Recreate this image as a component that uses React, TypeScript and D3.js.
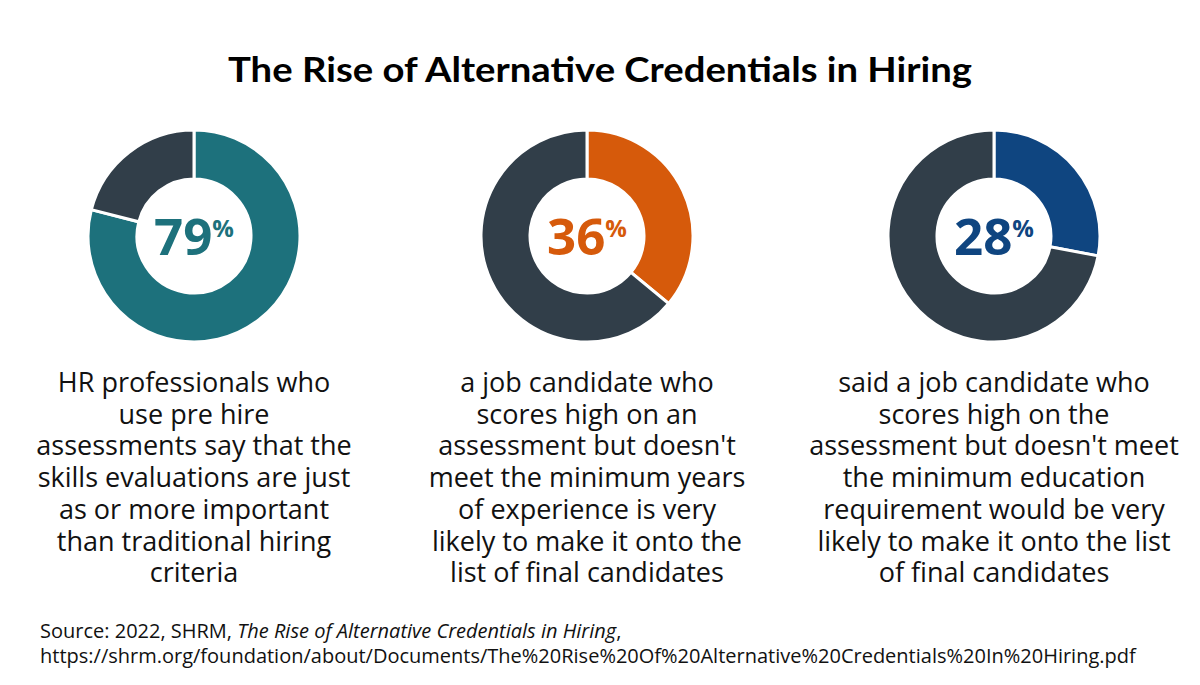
import React, { useEffect } from "react";
import * as d3 from "d3";

// values
const percents = [79, 36, 28];
const highlightColors = ["#1d717c", "#d65a0b", "#0f4580"];
const restColor = "#313e49";

const captions = [
  [
    "HR professionals who",
    "use pre hire",
    "assessments say that the",
    "skills evaluations are just",
    "as or more important",
    "than traditional hiring",
    "criteria",
  ],
  [
    "a job candidate who",
    "scores high on an",
    "assessment but doesn't",
    "meet the minimum years",
    "of experience is very",
    "likely to make it onto the",
    "list of final candidates",
  ],
  [
    "said a job candidate who",
    "scores high on the",
    "assessment but doesn't meet",
    "the minimum education",
    "requirement would be very",
    "likely to make it onto the list",
    "of final candidates",
  ],
];

const title = "The Rise of Alternative Credentials in Hiring";
const sourceUrl =
  "https://shrm.org/foundation/about/Documents/The%20Rise%20Of%20Alternative%20Credentials%20In%20Hiring.pdf";

const width = 1200;
const height = 685;
const centers = [194, 587, 994];
const cy = 236;
const outerR = 106;
const innerR = 57;

const App = () => {
  useEffect(() => {
    document.body.style.margin = "0";
  }, []);

  const pie = d3
    .pie<number>()
    .sort(null)
    .value((d) => d);
  const arc = d3.arc<d3.PieArcDatum<number>>().innerRadius(innerR).outerRadius(outerR);

  return (
    <svg width={width} height={height} style={{ display: "block", background: "#fff" }}>
      <text
        x={width / 2}
        y={82}
        textAnchor="middle"
        fontFamily="Lato, Inter, sans-serif"
        fontWeight={700}
        fontSize={34}
        textLength={744}
        lengthAdjust="spacingAndGlyphs"
        fill="#000"
      >
        {title}
      </text>

      {percents.map((p, i) => {
        const slices = pie([p, 100 - p]);
        return (
          <g key={i}>
            <g transform={`translate(${centers[i]},${cy})`}>
              {slices.map((s, j) => (
                <path
                  key={j}
                  d={arc(s) || ""}
                  fill={j === 0 ? highlightColors[i] : restColor}
                  stroke="#fff"
                  strokeWidth={3}
                />
              ))}
              <text
                y={19}
                textAnchor="middle"
                fontFamily="'Open Sans', sans-serif"
                fontWeight={700}
                fill={highlightColors[i]}
              >
                <tspan fontSize={51}>{p}</tspan>
                <tspan fontSize={24} dy={-18}>
                  %
                </tspan>
              </text>
            </g>
            <text
              textAnchor="middle"
              fontFamily="'Open Sans', sans-serif"
              fontSize={27}
              fill="#111"
            >
              {captions[i].map((line, k) => (
                <tspan key={k} x={centers[i]} y={392 + k * 31.7}>
                  {line}
                </tspan>
              ))}
            </text>
          </g>
        );
      })}

      <text x={40} y={638} fontFamily="'Open Sans', sans-serif" fontSize={20} fill="#111">
        Source: 2022, SHRM, <tspan fontStyle="italic">The Rise of Alternative Credentials in Hiring</tspan>,
      </text>
      <text x={40} y={663} fontFamily="'Open Sans', sans-serif" fontSize={20} fill="#111">
        {sourceUrl}
      </text>
    </svg>
  );
};

export default App;
